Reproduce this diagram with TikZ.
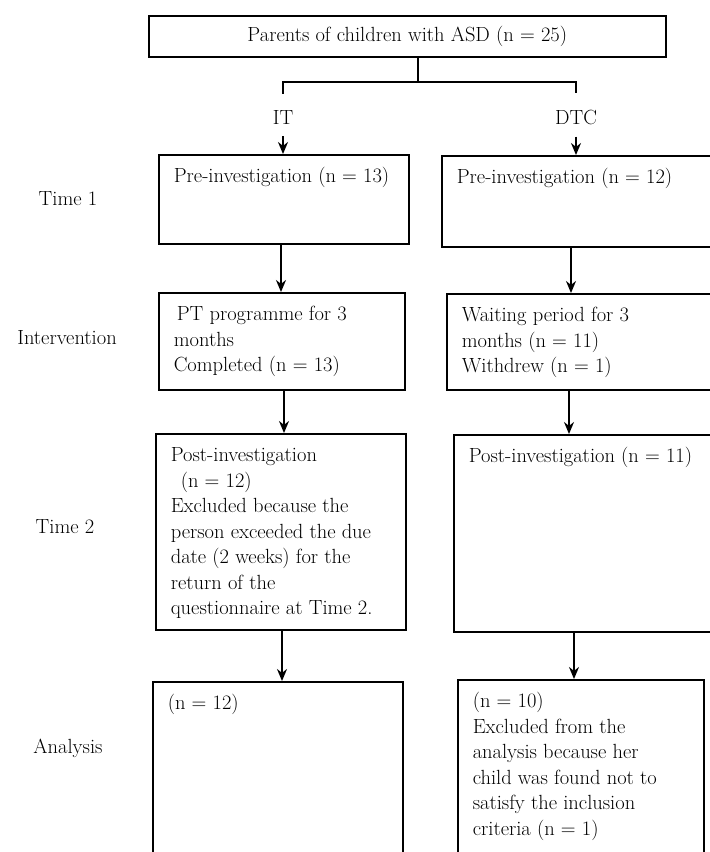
\documentclass[tikz,border=0pt]{standalone}
\usetikzlibrary{arrows.meta}
\tikzstyle{headbox} = [rectangle, draw=black, line width=1.6pt, minimum width=517pt, minimum height=41pt, anchor=north west]
\tikzstyle{stage} = [rectangle, draw=black, line width=1.6pt, anchor=north west, inner xsep=15pt, inner ysep=0pt]
\tikzstyle{side} = [inner sep=0pt]
\tikzstyle{line} = [line width=1.6pt]
\tikzstyle{arrow} = [line width=1.6pt,-{Stealth[length=12pt,width=10pt]}]
\newcommand{\stagetext}[3]{\parbox[t][#2][t]{#1}{\raggedright\rule{0pt}{28pt}#3}}

\begin{document}
\begin{tikzpicture}[x=1pt,y=-1pt,font=\fontsize{20.5}{25.5}\selectfont]
    \useasboundingbox (0,0) rectangle (710,852);
    \clip (0,0) rectangle (710,852);

    \node (top) [headbox] at (148,15) {Parents of children with ASD (n = 25)};
    \node (it) [side] at (283,117) {IT};
    \node (dtc) [side] at (576,117) {DTC};

    % phases on the left
    \node (time1) [side] at (68,199) {Time 1};
    \node (interv) [side] at (67,338) {Intervention};
    \node (time2) [side] at (65,527) {Time 2};
    \node (analysis) [side] at (68,748) {Analysis};

    % IT group
    \node (pre1) [stage] at (158,154) {\stagetext{220pt}{89pt}{Pre-investigation (n = 13)}};
    \node (prog) [stage] at (158,292) {\stagetext{216pt}{97pt}{\hspace*{3pt}PT programme for 3\\ months\\ Completed (n = 13)}};
    \node (post1) [stage] at (155,433) {\stagetext{220pt}{196pt}{Post-investigation\\ \hspace*{10pt}(n = 12)\\ Excluded because the\\ person exceeded the due\\ date (2 weeks) for the\\ return of the\\ questionnaire at Time 2.}};
    \node (ana1) [stage] at (152,681) {\stagetext{220pt}{250pt}{(n = 12)}};

    % DTC group
    \node (pre2) [stage] at (441,155) {\stagetext{290pt}{91pt}{Pre-investigation (n = 12)}};
    \node (wait) [stage] at (446,293) {\stagetext{290pt}{96pt}{Waiting period for 3\\ months (n = 11)\\ Withdrew (n = 1)}};
    \node (post2) [stage] at (453,434) {\stagetext{290pt}{197pt}{Post-investigation (n = 11)}};
    \node (ana2) [stage] at (457,679) {\stagetext{216pt}{250pt}{(n = 10)\\ Excluded from the\\ analysis because her\\ child was found not to\\ satisfy the inclusion\\ criteria (n = 1)}};

    \coordinate (fork) at (418,82);
    \draw [line] (top.south -| fork) -- (fork);
    \draw [line] ([yshift=16pt]it.north) |- (fork) -| ([yshift=16pt]dtc.north);

    \draw [arrow] ([yshift=-12pt]it.south) -- (pre1.north -| it);
    \draw [arrow] ([yshift=-12pt]dtc.south) -- (pre2.north -| dtc);
    \draw [arrow] (pre1.south -| 281,0) -- (prog.north -| 281,0);
    \draw [arrow] (pre2.south -| 571,0) -- (wait.north -| 571,0);
    \draw [arrow] (prog.south -| 284,0) -- (post1.north -| 284,0);
    \draw [arrow] (wait.south -| 569,0) -- (post2.north -| 569,0);
    \draw [arrow] (post1.south -| 282,0) -- (ana1.north -| 282,0);
    \draw [arrow] (post2.south -| 574,0) -- (ana2.north -| 574,0);
\end{tikzpicture}
\end{document}
